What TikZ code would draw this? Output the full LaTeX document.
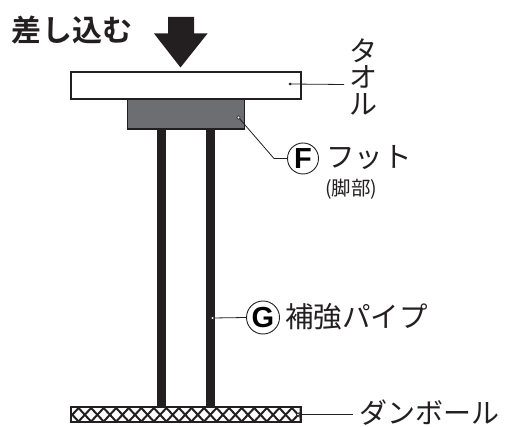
\documentclass[tikz,border=0pt]{standalone}
\usepackage{fontspec}
\setmainfont{Noto Sans CJK JP}
\newfontfamily\jpbold{Noto Sans CJK JP Bold}
\newfontfamily\latinbold{Liberation Sans Bold}
\definecolor{ink}{HTML}{231F20}
\definecolor{footgray}{HTML}{6D6E71}
\tikzset{
  x=1pt,y=-1pt,
  box/.style={draw=ink,line width=1.6pt,inner sep=0pt},
  leader/.style={draw=ink,line width=0.8pt},
  callout/.style={circle,draw=ink,line width=0.9pt,fill=white,minimum size=31pt,inner sep=0pt,font=\latinbold\fontsize{29}{29}\selectfont},
  lbl/.style={anchor=west,inner sep=0pt,text=ink,font=\fontsize{28.5}{28.5}\selectfont},
  wdot/.style={circle,fill=white,draw=ink,line width=0.4pt,minimum size=3.5pt,inner sep=0pt},
  bdot/.style={circle,fill=ink,minimum size=3pt,inner sep=0pt}
}
\begin{document}
\begin{tikzpicture}
\useasboundingbox (0,0) rectangle (505,427);
% pipes
\fill[ink] (156.5,128) rectangle (166,406);
\fill[ink] (205.5,128) rectangle (215,406);
% towel
\node[box,fill=white,minimum width=230pt,minimum height=27pt,anchor=north west] (towel) at (70,71) {};
% foot
\node[box,fill=footgray,minimum width=117pt,minimum height=30pt,anchor=north west] (foot) at (126.5,98) {};
% arrow
\fill[ink] (168,17) -- (194,17) -- (194,33.5) -- (207.5,33.5) -- (180.5,67.5) -- (154,33.5) -- (168,33.5) -- cycle;
% cardboard
\fill[ink] (70,406) rectangle (301.5,423);
\begin{scope}
\clip (72,408.5) rectangle (299.5,420.8);
\fill[white] (72,408) rectangle (300,421.5);
\foreach \i in {0,...,19}{
  \draw[ink,line width=2pt] ({66+\i*12.55},408) -- ({78.55+\i*12.55},421.5);
  \draw[ink,line width=2pt] ({78.55+\i*12.55},408) -- ({66+\i*12.55},421.5);
}
\end{scope}
% anchors
\coordinate (towelpt) at (290,84);
\node[wdot] (footpt) at (238.5,117.5) {};
\node[wdot] (pipept) at (212.5,318) {};
\node[wdot,minimum size=3pt] (cardpt) at (298,414.5) {};
\coordinate (towelend) at (344,84.5);
\coordinate (cardend) at (353,414.5);
\coordinate (bend) at (274,158.5);
% callouts
\node[callout] (F) at (303,158.5) {F};
\node[callout,minimum size=33pt] (G) at (263,317.5) {G};
% leaders
\draw[leader] (towelpt) -- (towelend);
\node[bdot] at (towelpt) {};
\draw[leader] (footpt) -- (bend) -- (F.west);
\draw[leader] (pipept) -- (G.west);
\draw[leader] (cardpt) -- (cardend);
% labels
\node[inner sep=0pt,text=ink,font=\jpbold\fontsize{30}{30}\selectfont,anchor=center] (sashikomu) at (72,30.5) {差し込む};
\node[inner sep=0pt,text=ink,font=\fontsize{28}{28}\selectfont] (ta) at (363,51) {タ};
\node[inner sep=0pt,text=ink,font=\fontsize{28}{28}\selectfont] (o) at (363,77) {オ};
\node[inner sep=0pt,text=ink,font=\fontsize{28}{28}\selectfont] (ru) at (363,104) {ル};
\node[lbl] (foottext) at (326,158) {フット};
\node[lbl,font=\fontsize{19.5}{19.5}\selectfont] (kyakubu) at (325,189) {(脚部)};
\node[lbl] (pipetext) at (285,317) {補強パイプ};
\node[lbl,font=\fontsize{28}{28}\selectfont] (cardtext) at (359,413) {ダンボール};
\end{tikzpicture}
\end{document}
